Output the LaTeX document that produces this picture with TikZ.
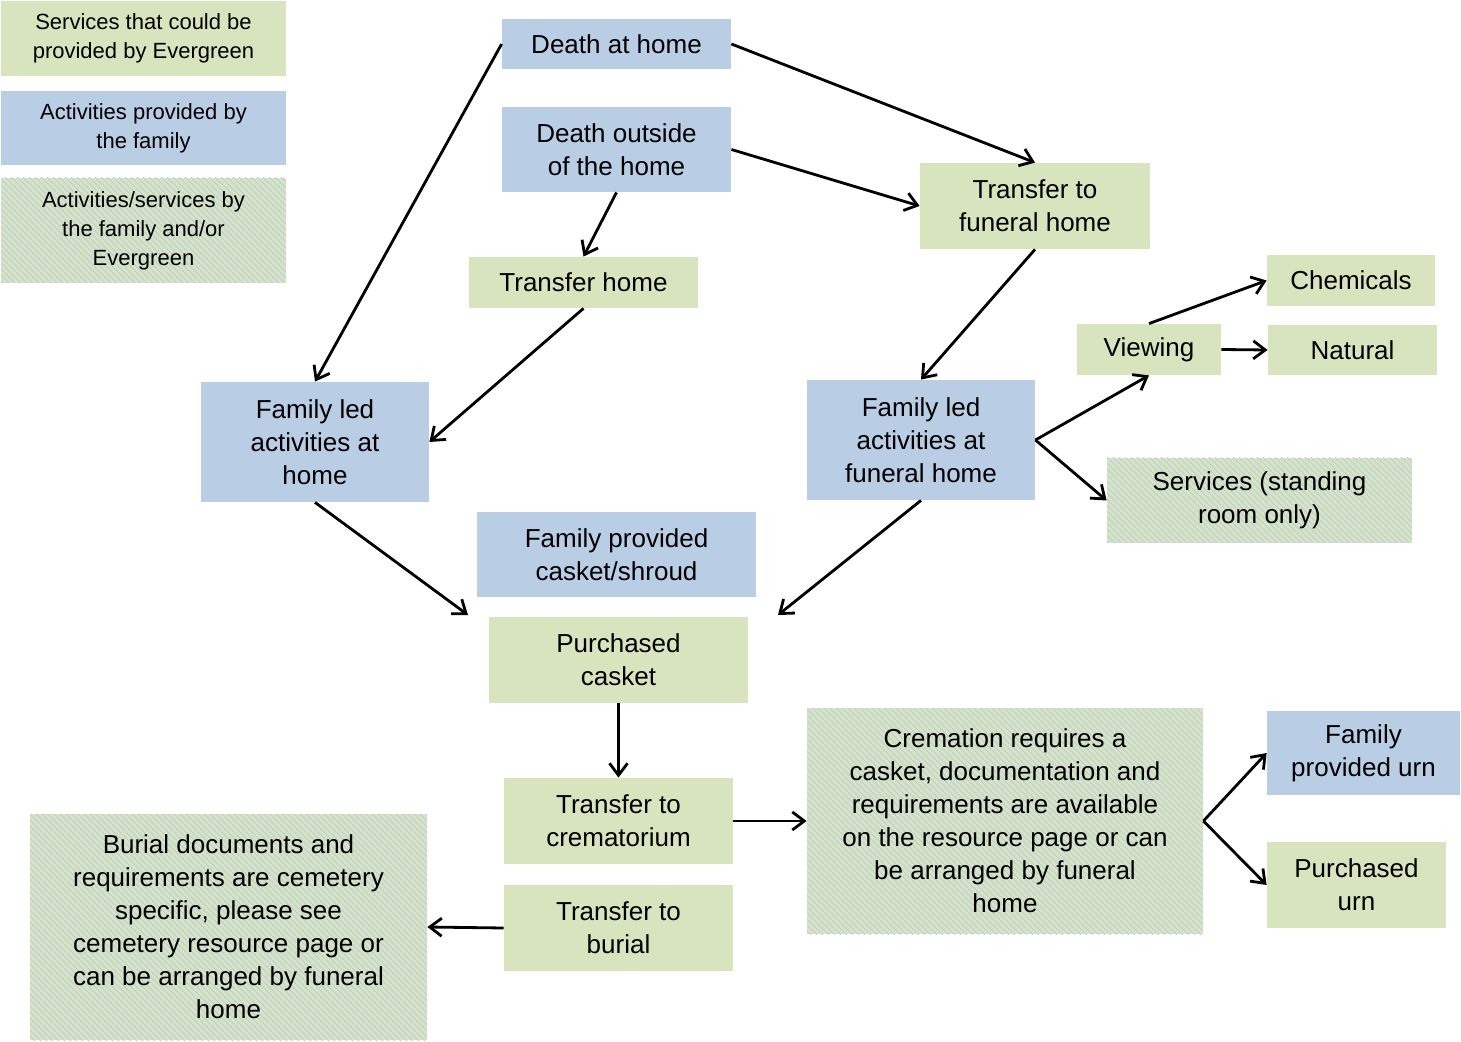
\documentclass[tikz,border=0pt]{standalone}
\usepackage{fontspec}
\setmainfont{Liberation Sans}
\usetikzlibrary{arrows.meta,patterns}
\definecolor{famblue}{RGB}{185,205,229}
\definecolor{evgreen}{RGB}{215,228,189}
\tikzset{
  box/.style={align=center,inner sep=1pt,font=\fontsize{13}{16.5}\selectfont},
  blue box/.style={box,fill=famblue},
  green box/.style={box,fill=evgreen},
  both box/.style={box,fill=evgreen,postaction={pattern=north west lines,pattern color=famblue}},
  legend/.style={font=\fontsize{11}{14.5}\selectfont},
  flow/.style={-{Straight Barb[length=6pt,width=9pt]},line width=1.4pt}
}
\newcommand{\boxat}[6]{% style, name, x1, y1, x2, y2
  \node[#1,minimum width={(#5-#3)*0.5pt},minimum height={(#6-#4)*0.5pt}] (#2) at ({(#3+#5)/2},{(#4+#6)/2})}
\begin{document}
\begin{tikzpicture}[x=0.5pt,y=-0.5pt]
\useasboundingbox (0,0) rectangle (1461,1042);
% legend
\boxat{green box,legend}{legA}{1}{1}{286}{76} {Services that could be\\provided by Evergreen};
\boxat{blue box,legend}{legB}{1}{91}{286}{165} {Activities provided by\\the family};
\boxat{both box,legend}{legC}{1}{178}{286}{283} {Activities/services by\\the family and/or\\Evergreen};
% deaths and transfers
\boxat{blue box}{dah}{502}{19}{731}{69} {Death at home};
\boxat{blue box}{doh}{502}{107}{731}{192} {Death outside\\of the home};
\boxat{green box}{tfh}{920}{163}{1150}{249} {Transfer to\\funeral home};
\boxat{green box}{th}{469}{257}{698}{308} {Transfer home};
% family led activities
\boxat{blue box}{flh}{201}{382}{429}{502} {Family led\\activities at\\home};
\boxat{blue box}{flf}{807}{380}{1035}{500} {Family led\\activities at\\funeral home};
\boxat{green box}{view}{1077}{324}{1221}{375} {Viewing};
\boxat{green box}{chem}{1267}{255}{1435}{306} {Chemicals};
\boxat{green box}{nat}{1268}{325}{1437}{375} {Natural};
\boxat{both box}{serv}{1107}{458}{1412}{543} {Services (standing\\room only)};
% caskets
\boxat{blue box}{fpc}{477}{512}{756}{597} {Family provided\\casket/shroud};
\boxat{green box}{pc}{489}{617}{748}{703} {Purchased\\casket};
\coordinate (inL) at (468,615);
\coordinate (inR) at (778,615);
% cremation and burial
\boxat{green box}{tc}{504}{778}{733}{864} {Transfer to\\crematorium};
\boxat{green box}{tb}{504}{885}{733}{971} {Transfer to\\burial};
\boxat{both box}{crem}{807}{708}{1203}{934} {Cremation requires a\\casket, documentation and\\requirements are available\\on the resource page or can\\be arranged by funeral\\home};
\boxat{both box}{bur}{30}{814}{427}{1040} {Burial documents and\\requirements are cemetery\\specific, please see\\cemetery resource page or\\can be arranged by funeral\\home};
\boxat{blue box}{fpu}{1267}{711}{1460}{795} {Family\\provided urn};
\boxat{green box}{pu}{1267}{842}{1446}{928} {Purchased\\urn};
% connectors
\draw[flow] (dah.west) -- (flh.north);
\draw[flow] (dah.east) -- (tfh.north);
\draw[flow] (doh.east) -- (tfh.west);
\draw[flow] (doh.south) -- (th.north);
\draw[flow] (th.south) -- (flh.east);
\draw[flow] (tfh.south) -- (flf.north);
\draw[flow] (flf.east) -- (view.south);
\draw[flow] (flf.east) -- (serv.west);
\draw[flow] (view.north) -- (chem.west);
\draw[flow] (view.east) -- (nat.west);
\draw[flow] (flh.south) -- (inL);
\draw[flow] (flf.south) -- (inR);
\draw[flow] (pc.south) -- (tc.north);
\draw[flow] (tc.east) -- (crem.west);
\draw[flow] (tb.west) -- (bur.east);
\draw[flow] (crem.east) -- (fpu.west);
\draw[flow] (crem.east) -- (pu.west);
\end{tikzpicture}
\end{document}
